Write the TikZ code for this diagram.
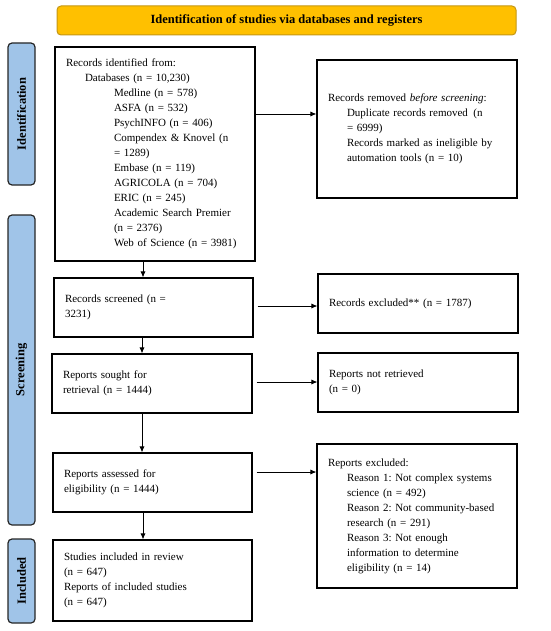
\documentclass[tikz,border=0pt]{standalone}
\usepackage{fontspec}
\setmainfont{Liberation Serif}
\usetikzlibrary{arrows.meta}
\definecolor{sideblue}{RGB}{160,196,232}
\definecolor{gold}{RGB}{255,192,0}
\definecolor{golddark}{RGB}{196,150,20}
\frenchspacing
\begin{document}
\begin{tikzpicture}[x=1pt,y=-1pt,
  box/.style={draw=black, line width=1.1pt, fill=white, inner xsep=11pt, inner ysep=0pt,
    align=left, anchor=center, font=\fontsize{11}{15}\selectfont\frenchspacing},
  side/.style={draw=black!85, line width=1.2pt, fill=sideblue, rounded corners=4pt, inner sep=0pt},
  sidetext/.style={rotate=90, font=\fontsize{12.5}{14}\selectfont\bfseries},
  arr/.style={line width=0.8pt, -{Latex[length=6pt,width=5pt]}}]
\useasboundingbox (0,0) rectangle (550,631);
% header
\node[draw=golddark, line width=1pt, fill=gold, rounded corners=4pt, minimum width=459pt, minimum height=29pt,
  font=\fontsize{12.5}{14}\selectfont\bfseries] (head) at (286.5,20.5) {Identification of studies via databases and registers};
% side labels
\node[side, minimum width=27pt, minimum height=142pt] (sid) at (21.5,114) {};
\node[sidetext] (sidt) at (sid.center) {Identification};
\node[side, minimum width=27pt, minimum height=310pt] (sscr) at (21.5,370) {};
\node[sidetext] (sscrt) at (sscr.center) {Screening};
\node[side, minimum width=27pt, minimum height=84pt] (sinc) at (21.5,581) {};
\node[sidetext] (sinct) at (sinc.center) {Included};
% boxes
\node[box, minimum width=200pt, minimum height=214pt, text width=178pt] (ident) at (155,154)
 {Records identified from:\\
  \hspace*{19pt}Databases (n = 10,230)\\
  \hspace*{48pt}Medline (n = 578)\\
  \hspace*{48pt}ASFA (n = 532)\\
  \hspace*{48pt}PsychINFO (n = 406)\\
  \hspace*{48pt}Compendex \& Knovel (n\\
  \hspace*{48pt}= 1289)\\
  \hspace*{48pt}Embase (n = 119)\\
  \hspace*{48pt}AGRICOLA (n = 704)\\
  \hspace*{48pt}ERIC (n = 245)\\
  \hspace*{48pt}Academic Search Premier\\
  \hspace*{48pt}(n = 2376)\\
  \hspace*{48pt}Web of Science (n = 3981)};
\node[box, minimum width=200pt, minimum height=138pt, text width=178pt] (removed) at (417,129)
 {Records removed \textit{before screening}:\\
  \hspace*{19pt}Duplicate records removed\enspace(n\\
  \hspace*{19pt}= 6999)\\
  \hspace*{19pt}Records marked as ineligible by\\
  \hspace*{19pt}automation tools (n = 10)};
\node[box, minimum width=199pt, minimum height=59pt, text width=177pt] (screened) at (153.5,307.5)
 {Records screened (n =\\3231)};
\node[box, minimum width=200pt, minimum height=59pt, text width=178pt] (excl) at (418,303.5)
 {Records excluded** (n = 1787)};
\node[box, minimum width=200pt, minimum height=59pt, text width=178pt] (sought) at (152,383.5)
 {Reports sought for\\retrieval (n = 1444)};
\node[box, minimum width=200pt, minimum height=59pt, text width=178pt] (notret) at (418,382.5)
 {Reports not retrieved\\(n = 0)};
\node[box, minimum width=199pt, minimum height=59pt, text width=177pt] (assessed) at (152.5,482.5)
 {Reports assessed for\\eligibility (n = 1444)};
\node[box, minimum width=200pt, minimum height=144pt, text width=178pt] (repexcl) at (417,516)
 {Reports excluded:\\
  \hspace*{19pt}Reason 1: Not complex systems\\
  \hspace*{19pt}science (n = 492)\\
  \hspace*{19pt}Reason 2: Not community-based\\
  \hspace*{19pt}research (n = 291)\\
  \hspace*{19pt}Reason 3: Not enough\\
  \hspace*{19pt}information to determine\\
  \hspace*{19pt}eligibility (n = 14)};
\node[box, minimum width=199pt, minimum height=81pt, text width=177pt] (incl) at (152.5,580.5)
 {Studies included in review\\(n = 647)\\Reports of included studies\\(n = 647)};
% arrows
\draw[arr] (ident.east |- 0,114) -- (removed.west |- 0,114);
\draw[arr] ([xshift=4pt]screened.east |- 0,306) -- (excl.west |- 0,306);
\draw[arr] ([xshift=4pt]sought.east |- 0,382) -- (notret.west |- 0,382);
\draw[arr] ([xshift=4pt]assessed.east |- 0,472) -- (repexcl.west |- 0,472);
\draw[arr] (ident.south -| 143,0) -- (screened.north -| 143,0);
\draw[arr] (screened.south -| 142,0) -- (sought.north -| 142,0);
\draw[arr] (sought.south -| 142,0) -- (assessed.north -| 142,0);
\draw[arr] (assessed.south -| 143,0) -- (incl.north -| 143,0);
\end{tikzpicture}
\end{document}
